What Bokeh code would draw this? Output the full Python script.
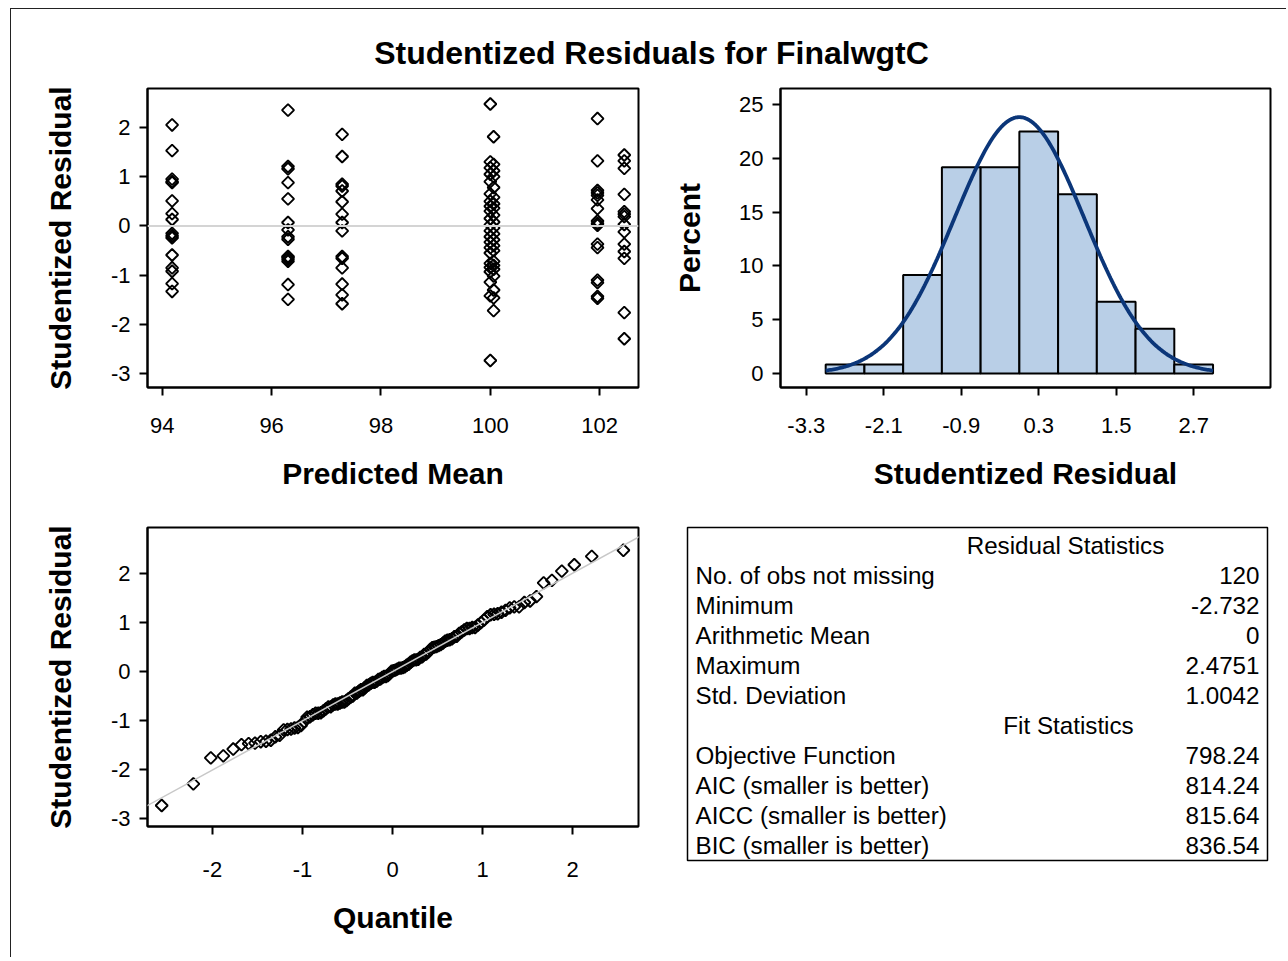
from statistics import NormalDist
import numpy as np
from bokeh.plotting import figure
from bokeh.layouts import column, row
from bokeh.models import Range1d, FixedTicker, Slope, Span, CustomJSTickFormatter
from bokeh.embed import file_html
from bokeh.resources import INLINE
from bokeh.core.properties import value

# ---------------- data ----------------
title_text = "Studentized Residuals for FinalwgtC"

group_pred = [94.18, 96.30, 97.29, 100.00, 100.06, 101.96, 102.45]
resid_g1 = [2.05, 1.53, 0.95, 0.90, 0.88, 0.51, 0.25, 0.13, -0.15, -0.20, -0.24, -0.59, -0.85, -0.92, -1.17, -1.33]
resid_g2 = [2.35, 1.21, 1.16, 0.88, 0.55, 0.07, -0.08, -0.22, -0.27, -0.62, -0.64, -0.68, -0.72, -1.19, -1.49]
resid_g3 = [1.86, 1.41, 0.85, 0.81, 0.71, 0.49, 0.24, 0.07, -0.10, -0.62, -0.66, -0.85, -1.18, -1.40, -1.58]
resid_g4a = [2.4751, 1.30, 1.18, 1.05, 0.90, 0.65, 0.50, 0.40, 0.30, 0.15, 0.02, -0.10, -0.22, -0.33,
             -0.44, -0.55, -0.76, -0.84, -0.93, -1.14, -1.42, -2.732]
resid_g4b = [1.81, 1.25, 1.12, 1.00, 0.78, 0.58, 0.45, 0.36, 0.22, 0.08, -0.04, -0.16, -0.28, -0.40,
             -0.50, -0.72, -0.80, -0.88, -1.02, -1.30, -1.46, -1.72]
resid_g5 = [2.18, 1.32, 0.72, 0.67, 0.62, 0.53, 0.35, 0.10, 0.05, 0.01, -0.37, -0.44, -1.10, -1.15, -1.43, -1.47]
resid_g6 = [1.44, 1.32, 1.17, 0.64, 0.29, 0.24, 0.19, 0.03, -0.12, -0.37, -0.52, -0.66, -1.76, -2.29]
group_resid = [resid_g1, resid_g2, resid_g3, resid_g4a, resid_g4b, resid_g5, resid_g6]

hist_edges = [-3.0, -2.4, -1.8, -1.2, -0.6, 0.0, 0.6, 1.2, 1.8, 2.4, 3.0]
hist_pct = [0.83, 0.83, 9.17, 19.17, 19.17, 22.5, 16.67, 6.67, 4.17, 0.83]
hist_ticks = [-3.3, -2.1, -0.9, 0.3, 1.5, 2.7]

resid_mean = 0.0
resid_sd = 1.0042

stats_header1 = "Residual Statistics"
stats_labels1 = ["No. of obs not missing", "Minimum", "Arithmetic Mean", "Maximum", "Std. Deviation"]
stats_values1 = ["120", "-2.732", "0", "2.4751", "1.0042"]
stats_header2 = "Fit Statistics"
stats_labels2 = ["Objective Function", "AIC (smaller is better)", "AICC (smaller is better)", "BIC (smaller is better)"]
stats_values2 = ["798.24", "814.24", "815.64", "836.54"]

# ---------------- derived ----------------
pred_x, resid_y = [], []
for px, rs in zip(group_pred, group_resid):
    pred_x += [px] * len(rs)
    resid_y += rs
n = len(resid_y)
sorted_r = sorted(resid_y)
nd = NormalDist()
qq_x = [nd.inv_cdf((i + 1 - 0.375) / (n + 0.25)) for i in range(n)]

curve_x = np.linspace(hist_edges[0], hist_edges[-1], 300)
bw = hist_edges[1] - hist_edges[0]
curve_y = [100 * bw * NormalDist(resid_mean, resid_sd).pdf(v) for v in curve_x]

# ---------------- styling ----------------
FONT = "Liberation Sans"
fmt0 = CustomJSTickFormatter(code="return tick.toFixed(0);")
fmt1 = CustomJSTickFormatter(code="return tick.toFixed(1);")


def style(p, xlabel_standoff=22, xaxis_standoff=21, ylabel_standoff=9, yaxis_standoff=31):
    p.outline_line_color = "black"
    p.outline_line_width = 2
    p.grid.visible = False
    p.background_fill_color = "white"
    p.border_fill_color = "white"
    for ax in p.axis:
        ax.axis_line_width = 2
        ax.axis_line_color = "black"
        ax.major_tick_line_width = 2
        ax.major_tick_line_color = "black"
        ax.major_tick_out = 8
        ax.major_tick_in = 0
        ax.minor_tick_line_color = None
        ax.major_label_text_font = FONT
        ax.major_label_text_font_size = "22px"
        ax.major_label_text_color = "black"
        ax.axis_label_text_font = FONT
        ax.axis_label_text_font_size = "30px"
        ax.axis_label_text_font_style = "bold"
        ax.axis_label_text_color = "black"
    p.xaxis.major_label_standoff = xlabel_standoff
    p.xaxis.axis_label_standoff = xaxis_standoff
    p.yaxis.major_label_standoff = ylabel_standoff
    p.yaxis.axis_label_standoff = yaxis_standoff


common = dict(output_backend="svg", toolbar_location=None)
MARK = dict(marker="square", angle=np.pi / 4, size=8.5, fill_color=None, line_color="black", line_width=1.9)

# title
pt = figure(width=1275, height=71, x_range=Range1d(0, 1275), y_range=Range1d(0, 71),
            x_axis_type=None, y_axis_type=None, min_border=0, **common)
pt.grid.visible = False
pt.outline_line_color = None
pt.text(x=[640], y=[28], text=[title_text], text_font=value(FONT), text_font_size="32px",
        text_font_style="bold", text_align="center", text_baseline="middle", text_color="black")

# residual vs predicted
p1 = figure(frame_width=491, frame_height=299, x_range=Range1d(93.73, 102.71), y_range=Range1d(-3.28, 2.79),
            min_border_left=136, min_border_right=30, min_border_top=8, min_border_bottom=123, **common)
p1.add_layout(Span(location=0, dimension="width", line_color="#d4d4d4", line_width=2))
p1.scatter(pred_x, resid_y, **MARK)
p1.xaxis.ticker = FixedTicker(ticks=[94, 96, 98, 100, 102])
p1.yaxis.ticker = FixedTicker(ticks=[-3, -2, -1, 0, 1, 2])
p1.xaxis.formatter = fmt0
p1.yaxis.formatter = fmt0
p1.xaxis.axis_label = "Predicted Mean"
p1.yaxis.axis_label = "Studentized Residual"
style(p1)

# histogram
p2 = figure(frame_width=490, frame_height=299, x_range=Range1d(-3.70, 3.89), y_range=Range1d(-1.3, 26.5),
            min_border_left=112, min_border_right=16, min_border_top=8, min_border_bottom=123, **common)
p2.quad(left=hist_edges[:-1], right=hist_edges[1:], bottom=0, top=hist_pct,
        fill_color="#b9cfe7", line_color="black", line_width=2)
p2.line(curve_x, curve_y, line_color="#0b3679", line_width=3.8)
p2.xaxis.ticker = FixedTicker(ticks=hist_ticks)
p2.yaxis.ticker = FixedTicker(ticks=[0, 5, 10, 15, 20, 25])
p2.xaxis.formatter = fmt1
p2.yaxis.formatter = fmt0
p2.xaxis.axis_label = "Studentized Residual"
p2.yaxis.axis_label = "Percent"
style(p2, yaxis_standoff=30)

# QQ plot
p3 = figure(frame_width=491, frame_height=299, x_range=Range1d(-2.72, 2.73), y_range=Range1d(-3.16, 2.94),
            min_border_left=136, min_border_right=40, min_border_top=17, min_border_bottom=131, **common)
p3.add_layout(Slope(gradient=resid_sd, y_intercept=resid_mean, line_color="#c8c8c8", line_width=1.5))
p3.scatter(qq_x, sorted_r, **MARK)
p3.xaxis.ticker = FixedTicker(ticks=[-2, -1, 0, 1, 2])
p3.yaxis.ticker = FixedTicker(ticks=[-3, -2, -1, 0, 1, 2])
p3.xaxis.formatter = fmt0
p3.yaxis.formatter = fmt0
p3.xaxis.axis_label = "Quantile"
p3.yaxis.axis_label = "Studentized Residual"
style(p3, xlabel_standoff=27, xaxis_standoff=21)

# statistics table
TW, TH = 580, 333
p4 = figure(frame_width=TW, frame_height=TH, x_range=Range1d(0, TW), y_range=Range1d(TH, 0),
            x_axis_type=None, y_axis_type=None,
            min_border_left=9, min_border_right=17, min_border_top=17, min_border_bottom=97, **common)
p4.grid.visible = False
p4.outline_line_color = "black"
p4.outline_line_width = 1.5
row_h = 30
y0 = 18
txt = dict(text_font=value(FONT), text_font_size="24.2px", text_baseline="middle", text_color="black")
p4.text(x=[378], y=[y0], text=[stats_header1], text_align="center", **txt)
ys1 = [y0 + row_h * (i + 1) for i in range(len(stats_labels1))]
p4.text(x=[8] * len(ys1), y=ys1, text=stats_labels1, text_align="left", **txt)
p4.text(x=[572] * len(ys1), y=ys1, text=stats_values1, text_align="right", **txt)
yh2 = y0 + row_h * (len(stats_labels1) + 1)
p4.text(x=[381], y=[yh2], text=[stats_header2], text_align="center", **txt)
ys2 = [yh2 + row_h * (i + 1) for i in range(len(stats_labels2))]
p4.text(x=[8] * len(ys2), y=ys2, text=stats_labels2, text_align="left", **txt)
p4.text(x=[572] * len(ys2), y=ys2, text=stats_values2, text_align="right", **txt)

layout = column(pt, row(p1, p2), row(p3, p4),
                styles={"margin-left": "10px", "margin-top": "8px",
                        "border-left": "1px solid #222", "border-top": "1px solid #222"})

open("out.html", "w").write(file_html(layout, INLINE))
